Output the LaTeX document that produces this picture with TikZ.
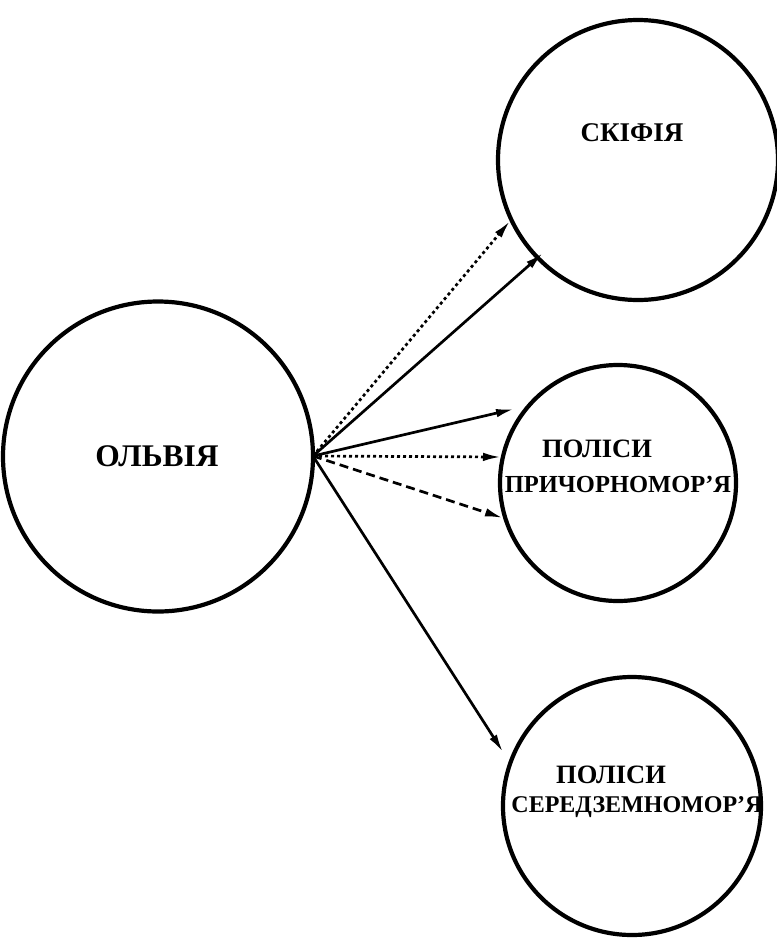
\documentclass[tikz,border=0pt]{standalone}
\usepackage{fontspec}
\setmainfont{Liberation Serif}
\usetikzlibrary{arrows.meta}
\begin{document}
\begin{tikzpicture}[x=1pt,y=-1pt,
  circ/.style={draw, circle, line width=4.2pt, inner sep=0pt},
  lbl/.style={inner sep=0pt, anchor=center},
  conn/.style={line width=2.7pt, -{Latex[length=18pt,width=8.5pt]}},
  dots/.style={dash pattern=on 3pt off 3pt},
  dashes/.style={dash pattern=on 9pt off 5pt}]
\useasboundingbox[fill=white] (0,0) rectangle (777,938);
\node[circ, minimum size=310pt] (olv) at (158,456.5) {};
\node[circ, minimum size=280pt] (skif) at (638,160) {};
\node[circ, minimum size=236pt] (pri) at (618,483) {};
\node[circ, minimum size=258pt] (ser) at (632,806) {};
\node[lbl, font=\fontsize{31.5}{31.5}\selectfont\bfseries] (tolv) at (157,456) {ОЛЬВІЯ};
\node[lbl, font=\fontsize{27}{27}\selectfont\bfseries] (tskif) at (632,133) {СКІФІЯ};
\node[lbl, font=\fontsize{26.5}{26.5}\selectfont\bfseries] (tpri1) at (597,449) {ПОЛІСИ};
\node[lbl, font=\fontsize{24.5}{24.5}\selectfont\bfseries] (tpri2) at (618,484) {ПРИЧОРНОМОР’Я};
\node[lbl, font=\fontsize{26.5}{26.5}\selectfont\bfseries] (tser1) at (611,775) {ПОЛІСИ};
\node[lbl, font=\fontsize{24}{24}\selectfont\bfseries] (tser2) at (637,807) {СЕРЕДЗЕМНОМОР’Я};
\coordinate (src) at (313,456);
\coordinate (e1) at (510,221);
\coordinate (e2) at (543,253);
\coordinate (e3) at (514,409);
\coordinate (e4) at (501,457);
\coordinate (e5) at (503,518);
\coordinate (e6) at (503,752);
\draw[conn, dots] (src) -- (e1);
\draw[conn] (src) -- (e2);
\draw[conn] (src) -- (e3);
\draw[conn, dots] (src) -- (e4);
\draw[conn, dashes] (src) -- (e5);
\draw[conn] (src) -- (e6);
\end{tikzpicture}
\end{document}
